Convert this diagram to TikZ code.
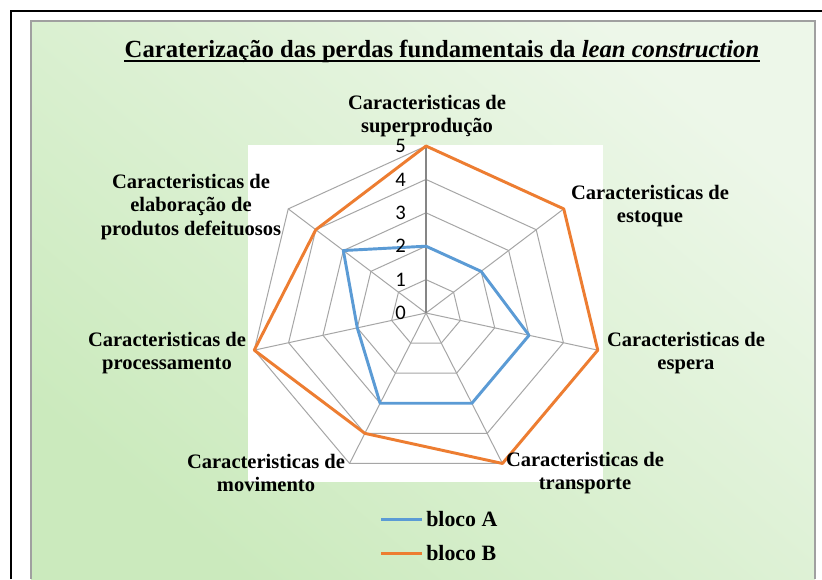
\documentclass[tikz,border=0pt]{standalone}
\usepackage{fontspec}
\setmainfont{Liberation Serif}
\newfontfamily\numfont{Carlito}
\definecolor{bgdark}{RGB}{203,234,189}
\definecolor{bglight}{RGB}{237,247,233}
\definecolor{gridgray}{RGB}{166,166,166}
\definecolor{axisgray}{RGB}{134,134,134}
\definecolor{frameGray}{RGB}{160,160,160}
\definecolor{serA}{RGB}{91,155,213}
\definecolor{serB}{RGB}{237,125,49}
\begin{document}
\begin{tikzpicture}[x=0.75pt,y=-0.75pt,
  catlabel/.style={font=\fontsize{15.4}{17.3}\selectfont\bfseries, align=center, inner sep=0pt},
  numlabel/.style={font=\numfont\fontsize{15.5}{16}\selectfont, anchor=east, inner sep=0pt},
  legtext/.style={font=\fontsize{16.4}{18}\selectfont\bfseries, anchor=base west, inner sep=0pt},
  gridline/.style={draw=gridgray, line width=0.75pt},
  axisline/.style={draw=axisgray, line width=0.9pt},
  serieA/.style={draw=serA, line width=2.2pt, line join=round},
  serieB/.style={draw=serB, line width=2.2pt, line join=round}]
\useasboundingbox (0,0) rectangle (822,579);
% page frame
\fill[white] (0,0) rectangle (822,579);
\draw[black, line width=1.5pt] (11,579) -- (11,11) -- (822,11);
% chart area
\shade[bottom color=bgdark, top color=bglight, shading angle=-40] (31,21) rectangle (815,579);
\draw[frameGray, line width=0.8pt] (31,579) -- (31,21) -- (815,21) -- (815,579);
% plot area
\fill[white] (248,145) rectangle (603,482);
% radar
\begin{scope}[shift={(426,313)}, xscale=35.24, yscale=-33.4]
  \foreach \v in {1,...,5} {
    \draw[gridline] (90:\v) \foreach \k in {1,...,6} { -- ({90-\k*360/7}:\v) } -- cycle;
  }
  \foreach \k in {1,...,6} { \draw[gridline] (0,0) -- ({90-\k*360/7}:5); }
  \draw[axisline] (0,0) -- (90:5);
  \draw[serieA] (90:2) -- ({90-360/7}:2) -- ({90-2*360/7}:3) -- ({90-3*360/7}:3)
     -- ({90-4*360/7}:3) -- ({90-5*360/7}:2) -- ({90-6*360/7}:3) -- cycle;
  \draw[serieB] (90:5) -- ({90-360/7}:5) -- ({90-2*360/7}:5) -- ({90-3*360/7}:5)
     -- ({90-4*360/7}:4) -- ({90-5*360/7}:5) -- ({90-6*360/7}:4) -- cycle;
\end{scope}
% value labels
\foreach \v in {0,...,5} {
  \node[numlabel] (n\v) at (406, {313-33.4*\v}) {\v};
}
% category labels
\node[catlabel] (c1) at (427,116) {Caracteristicas de\\superprodução};
\node[catlabel] (c2) at (650,206) {Caracteristicas de\\estoque};
\node[catlabel] (c3) at (686,353) {Caracteristicas de\\espera};
\node[catlabel] (c4) at (585,473) {Caracteristicas de\\transporte};
\node[catlabel] (c5) at (266,473) {Caracteristicas de\\movimento};
\node[catlabel] (c6) at (167,353) {Caracteristicas de\\processamento};
\node[catlabel] (c7) at (191,207) {Caracteristicas de\\elaboração de\\produtos defeituosos};
% title
\node[font=\fontsize{18.5}{20}\selectfont\bfseries, inner sep=0pt, anchor=base] (title) at (442,57)
  {Caraterização das perdas fundamentais da {\itshape lean construction}};
\draw[black, line width=1.2pt] ([yshift=-3.2pt]title.base west) -- ([yshift=-3.2pt]title.base east);
% legend
\coordinate (la1) at (381,519.5); \coordinate (la2) at (422,519.5);
\coordinate (lb1) at (381,553.5); \coordinate (lb2) at (422,553.5);
\draw[serieA] (la1) -- (la2);
\draw[serieB] (lb1) -- (lb2);
\node[legtext] (lgA) at (426,526) {bloco A};
\node[legtext] (lgB) at (426,560) {bloco B};
\end{tikzpicture}
\end{document}
